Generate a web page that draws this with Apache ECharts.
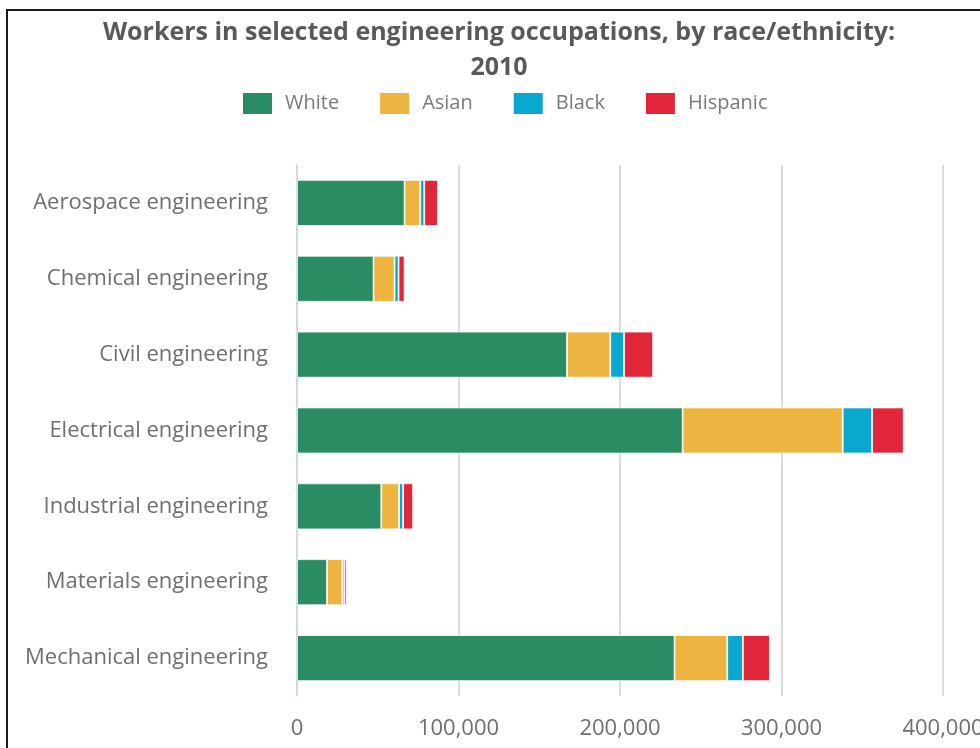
<!DOCTYPE html>
<html>
<head>
<meta charset="utf-8">
<script src="https://cdn.jsdelivr.net/npm/echarts@6/dist/echarts.min.js"></script>
<style>
html,body{margin:0;padding:0;background:#fff;}
#chart{width:980px;height:748px;position:absolute;left:0;top:0;}
#frame{position:absolute;left:6px;top:9px;width:1100px;height:900px;border:2px solid #1a1a1a;pointer-events:none;}
</style>
</head>
<body>
<div id="chart"></div>
<div id="frame"></div>
<script>
const categories = ["Aerospace engineering","Chemical engineering","Civil engineering","Electrical engineering","Industrial engineering","Materials engineering","Mechanical engineering"];
const white    = [66600, 47400, 167200, 238800, 52200, 18600, 233800];
const asian    = [9700, 13000, 26800, 99100, 11000, 9500, 32600];
const black    = [2500, 2500, 8500, 18200, 2500, 1200, 9700];
const hispanic = [8500, 3700, 18000, 19600, 6200, 1400, 16700];
const xTicks = [0, 100000, 200000, 300000, 400000];

const chart = echarts.init(document.getElementById('chart'));
const font = '"Open Sans", sans-serif';
function ser(name, data, color){
  return {name, type:'bar', stack:'total', data, barWidth:46,
    itemStyle:{color, borderColor:'#ffffff', borderWidth:0.8}};
}
chart.setOption({
  animation:false,
  title:{text:'Workers in selected engineering occupations, by race/ethnicity:\n2010',
    left:494, textAlign:'center', top:10,
    textStyle:{fontFamily:font, fontWeight:'bold', fontSize:25, color:'#595959', lineHeight:35}},
  legend:{top:86, left:236, itemWidth:31, itemHeight:23, itemGap:39,
    icon:'rect', textStyle:{fontFamily:font, fontSize:20, color:'#7a7a7a', padding:[0,0,0,7]},
    data:['White','Asian','Black','Hispanic']},
  grid:{left:297, right:37, top:165, bottom:52, containLabel:false, outerBoundsMode:'none'},
  xAxis:{type:'value', min:xTicks[0], max:xTicks[xTicks.length-1], interval:100000,
    axisLine:{show:false}, axisTick:{show:false},
    splitLine:{lineStyle:{color:'#cfcfcf', width:1.5}},
    axisLabel:{fontFamily:font, fontSize:22, color:'#6f6f6f', margin:22,
      formatter:v=>v.toLocaleString('en-US')}},
  yAxis:{type:'category', data:categories, inverse:true,
    axisLine:{lineStyle:{color:'#ccd6eb', width:1.5}}, axisTick:{show:false},
    axisLabel:{fontFamily:font, fontSize:22, color:'#6f6f6f', margin:29}},
  series:[ser('White',white,'#2a8c62'), ser('Asian',asian,'#edb43f'),
          ser('Black',black,'#0aa8cf'), ser('Hispanic',hispanic,'#e22639')]
});
</script>
</body>
</html>
